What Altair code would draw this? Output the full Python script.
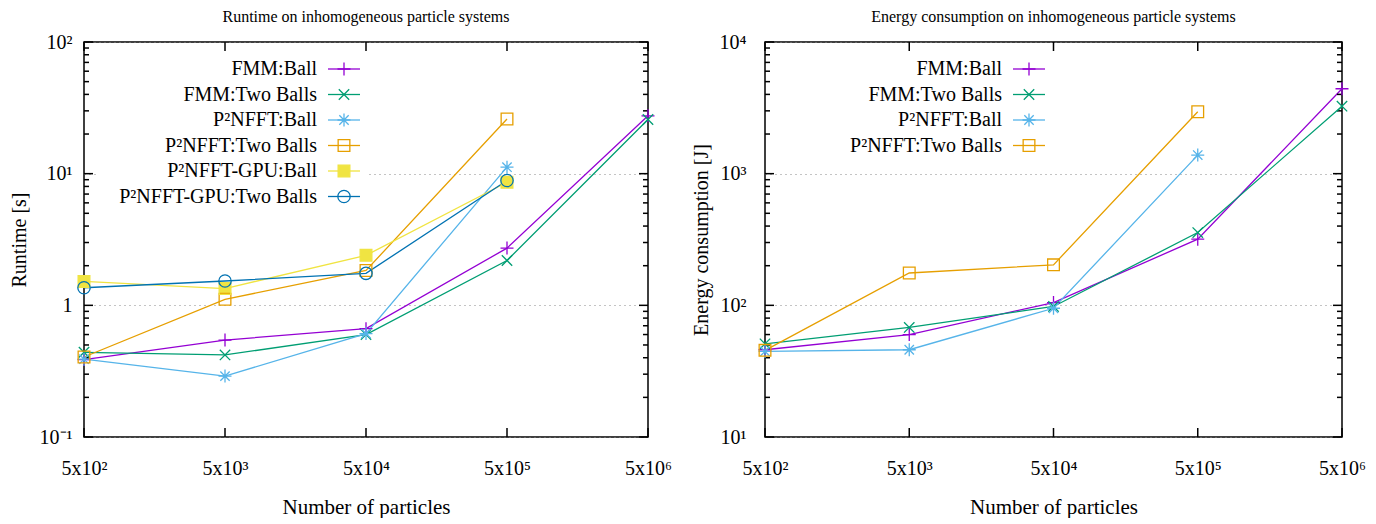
import math
import altair as alt
import pandas as pd

# ---------------- data ----------------
N = [500, 5000, 50000, 500000, 5000000]

RT_SERIES = ["FMM:Ball", "FMM:Two Balls", "P²NFFT:Ball", "P²NFFT:Two Balls",
             "P²NFFT-GPU:Ball", "P²NFFT-GPU:Two Balls"]
rt_fmm_ball = [0.387, 0.545, 0.665, 2.72, 27.5]
rt_fmm_two = [0.44, 0.42, 0.60, 2.19, 25.8]
rt_p2_ball = [0.39, 0.29, 0.61, 11.2]
rt_p2_two = [0.405, 1.11, 1.84, 26.0]
rt_gpu_ball = [1.52, 1.34, 2.40, 8.6]
rt_gpu_two = [1.36, 1.53, 1.75, 8.87]
RT_VALUES = [rt_fmm_ball, rt_fmm_two, rt_p2_ball, rt_p2_two, rt_gpu_ball, rt_gpu_two]

EN_SERIES = ["FMM:Ball", "FMM:Two Balls", "P²NFFT:Ball", "P²NFFT:Two Balls"]
en_fmm_ball = [46, 60, 105, 318, 4415]
en_fmm_two = [51, 68, 98, 357, 3257]
en_p2_ball = [44.7, 46, 95, 1384]
en_p2_two = [45.5, 176, 203, 2953]
EN_VALUES = [en_fmm_ball, en_fmm_two, en_p2_ball, en_p2_two]

X_LABELS = ["5x10²", "5x10³", "5x10⁴", "5x10⁵", "5x10⁶"]
RT_TICKS = [0.1, 1, 10, 100]
RT_LABELS = ["10⁻¹", "1", "10¹", "10²"]
EN_TICKS = [10, 100, 1000, 10000]
EN_LABELS = ["10¹", "10²", "10³", "10⁴"]

COLORS = ["#9400d3", "#009e73", "#56b4e9", "#e69f00", "#f0e442", "#0072b2"]
MARKERS = ["plus", "cross", "star", "square", "fsquare", "circle"]

FONT = "Liberation Serif"


# ---------------- marker paths (unit size) ----------------
def f(v):
    return f"{v:.4f}".rstrip("0").rstrip(".")


def marker_path(kind):
    if kind == "plus":
        return "M-1,0L1,0M0,-1L0,1"
    if kind == "cross":
        a = 0.8
        return f"M{f(-a)},{f(-a)}L{f(a)},{f(a)}M{f(-a)},{f(a)}L{f(a)},{f(-a)}"
    if kind == "star":
        a = 0.72
        return ("M-1,0L1,0M0,-1L0,1"
                f"M{f(-a)},{f(-a)}L{f(a)},{f(a)}M{f(-a)},{f(a)}L{f(a)},{f(-a)}")
    if kind in ("square", "fsquare"):
        a = 0.9
        return f"M{f(-a)},{f(-a)}L{f(a)},{f(-a)}L{f(a)},{f(a)}L{f(-a)},{f(a)}Z"
    if kind == "circle":
        r = 0.95
        return f"M{f(r)},0A{f(r)},{f(r)} 0 1,1 {f(-r)},0A{f(r)},{f(r)} 0 1,1 {f(r)},0Z"
    return ""


MSIZE = 169  # marker area -> half size 6.5 px
MAJOR, MINOR = 9, 5


def long_df(series, values):
    rows = []
    for s, vals in zip(series, values):
        for n, v in zip(N, vals):
            rows.append({"n": n, "value": v, "series": s})
    return pd.DataFrame(rows)


def label_expr(labels, base_expr):
    arr = "[" + ",".join("'" + l + "'" for l in labels) + "]"
    return f"{arr}[{base_expr}]"


def panel(series, values, title, ytitle, yticks, ylabels, W, H, ylab_pad, ytitle_pad,
          leg_text_x, leg_box):
    df = long_df(series, values)
    n = len(series)
    colors = COLORS[:n]
    markers = MARKERS[:n]
    lo, hi = yticks[0], yticks[-1]
    dec0 = round(math.log10(lo))
    ndec = math.log10(hi / lo)
    yminor = []
    for e in range(dec0, dec0 + len(yticks) - 1):
        for k in range(2, 10):
            yminor.append(round(k * 10 ** e, 6))

    xscale = alt.Scale(type="log", domain=[N[0], N[-1]], nice=False)
    yscale = alt.Scale(type="log", domain=[lo, hi], nice=False)

    ylab = label_expr(ylabels, f"round(log(datum.value)/LN10) - ({dec0})")
    xlab = label_expr(X_LABELS, "round(log(datum.value/500)/LN10)")

    ax_y_lab = alt.Axis(orient="left", values=yticks, labelExpr=ylab, ticks=False,
                        domain=False, grid=True, gridDash=[1, 4], gridColor="#888888",
                        gridWidth=1, labelPadding=ylab_pad, title=ytitle,
                        titlePadding=ytitle_pad, labelFontSize=20, titleFontSize=20)
    ax_x_lab = alt.Axis(orient="bottom", values=N, labelExpr=xlab, ticks=False,
                        domain=False, grid=False, labelPadding=21, labelFlush=False,
                        labelOverlap=False, title="Number of particles", titlePadding=18,
                        labelFontSize=20, titleFontSize=21)

    color = alt.Color("series:N", scale=alt.Scale(domain=series, range=colors), legend=None)
    shape = alt.Shape("series:N",
                      scale=alt.Scale(domain=series, range=[marker_path(m) for m in markers]),
                      legend=None)
    xno = alt.X("n:Q", scale=xscale, axis=None)

    base = alt.Chart(df)
    layers = [base.mark_line(strokeWidth=1.3).encode(
        x=alt.X("n:Q", scale=xscale, axis=ax_x_lab),
        y=alt.Y("value:Q", scale=yscale, axis=ax_y_lab),
        color=color,
        order="n:Q",
    )]

    # ---- inward tick marks on all four edges (gnuplot border style) ----
    tick_style = dict(color="black", strokeWidth=1.5)
    tick_data = pd.DataFrame(
        [{"v": v, "len": MAJOR} for v in yticks] + [{"v": v, "len": MINOR} for v in yminor])
    ych = alt.Y("v:Q", scale=yscale, axis=None)
    for lenv in (MAJOR, MINOR):
        sub = alt.Chart(tick_data).transform_filter(alt.datum.len == lenv)
        layers.append(sub.mark_rule(**tick_style).encode(
            y=ych, x=alt.value(0), x2=alt.value(lenv)))
        layers.append(sub.mark_rule(**tick_style).encode(
            y=ych, x=alt.value(W - lenv), x2=alt.value(W)))
    xdf = pd.DataFrame({"n": N})
    layers.append(alt.Chart(xdf).mark_rule(**tick_style).encode(
        x=xno, y=alt.value(H - MAJOR), y2=alt.value(H)))
    layers.append(alt.Chart(xdf).mark_rule(**tick_style).encode(
        x=xno, y=alt.value(0), y2=alt.value(MAJOR)))

    for s, m, c in zip(series, markers, colors):
        if m == "fsquare":
            layers.append(base.transform_filter(alt.datum.series == s).mark_point(
                filled=True, shape=marker_path("fsquare"), size=MSIZE,
                opacity=1, color=c, strokeWidth=0).encode(
                x=xno, y=alt.Y("value:Q", scale=yscale, axis=None)))
    layers.append(base.mark_point(filled=False, size=MSIZE, strokeWidth=1.3,
                                  opacity=1).encode(
        x=xno, y=alt.Y("value:Q", scale=yscale, axis=None), color=color, shape=shape))

    # ---- key (gnuplot style: right-aligned text, then line sample + marker) ----
    # key rows are placed on the panel's own y scale (row i sits y0 + i*dy px below the top)
    y0, dy = 27, 25.5
    leg_df = pd.DataFrame({
        "series": series,
        "ky": [hi / 10 ** ((y0 + i * dy) * ndec / H) for i in range(n)],
    })
    leg_base = alt.Chart(leg_df)
    y_leg = alt.Y("ky:Q", scale=yscale, axis=None)
    if leg_box:
        layers.append(leg_base.transform_filter(alt.datum.series == series[0]).mark_rect(
            color="white").encode(
            x=alt.value(leg_box[0]), x2=alt.value(leg_box[1]),
            y=alt.value(leg_box[2]), y2=alt.value(leg_box[3])))
    sx = leg_text_x + 11
    layers.append(leg_base.mark_text(align="right", baseline="middle", font=FONT,
                                     fontSize=20, color="black").encode(
        x=alt.value(leg_text_x), y=y_leg, text="series:N"))
    layers.append(leg_base.mark_rule(strokeWidth=1.3).encode(
        x=alt.value(sx), x2=alt.value(sx + 32), y=y_leg, color=color))
    for s, m, c in zip(series, markers, colors):
        if m == "fsquare":
            layers.append(leg_base.transform_filter(alt.datum.series == s).mark_point(
                filled=True, shape=marker_path("fsquare"), size=MSIZE, opacity=1,
                color=c, strokeWidth=0).encode(x=alt.value(sx + 16), y=y_leg))
    layers.append(leg_base.mark_point(filled=False, size=MSIZE, strokeWidth=1.3,
                                      opacity=1).encode(
        x=alt.value(sx + 16), y=y_leg, color=color, shape=shape))

    return alt.layer(*layers).resolve_axis(x="independent", y="independent").properties(
        width=W, height=H,
        title=alt.TitleParams(title, fontSize=16, font=FONT, fontWeight="normal",
                              anchor="middle", frame="group", offset=7, color="black"),
    )


left = panel(RT_SERIES, RT_VALUES, "Runtime on inhomogeneous particle systems",
             "Runtime [s]", RT_TICKS, RT_LABELS, 564, 395, 12, 10,
             233, (14, 283, 12, 186))
right = panel(EN_SERIES, EN_VALUES, "Energy consumption on inhomogeneous particle systems",
              "Energy consumption [J]", EN_TICKS, EN_LABELS, 577, 395, 19, 8,
              237, None)

chart = alt.hconcat(left, right, spacing=17).resolve_scale(
    color="independent", shape="independent"
).configure(
    font=FONT, padding=0,
).configure_view(
    stroke="black", strokeWidth=1.5, fill="white",
).configure_axis(
    labelFont=FONT, titleFont=FONT, labelColor="black", titleColor="black",
    titleFontWeight="normal", tickColor="black", tickWidth=1.3,
)

chart.save("out.html", embed_options={"renderer": "svg", "actions": False})
